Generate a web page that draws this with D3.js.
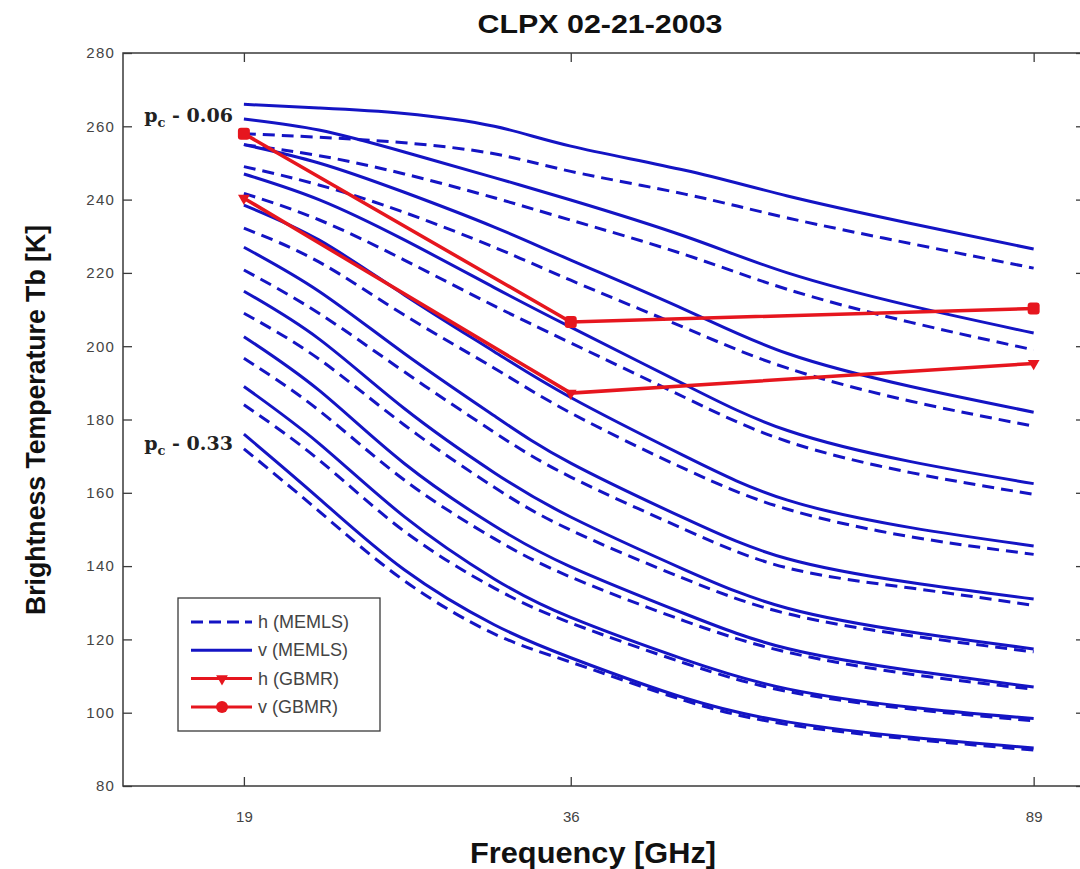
<!DOCTYPE html>
<html>
<head>
<meta charset="utf-8">
<script src="https://cdn.jsdelivr.net/npm/d3@7"></script>
<style>
  html, body { margin: 0; padding: 0; background: #ffffff; }
  svg { display: block; }
</style>
</head>
<body>
<svg id="chart" width="1080" height="869"></svg>
<script>
// Frequencies (GHz) at which the MEMLS curves are sampled
const frequencies = [19, 22, 26, 31, 36, 45, 55, 70, 89];

// Correlation length labels for the first and last MEMLS runs
const pcLabels = ["0.06", "0.33"];

// MEMLS vertical polarisation, one row per correlation length (K)
const vMEMLS = [
  [266.0, 265.0, 263.5, 260.0, 254.6, 248.0, 241.0, 233.5, 226.5],
  [262.0, 259.0, 253.0, 246.0, 239.9, 230.0, 220.0, 211.0, 203.6],
  [255.0, 250.0, 242.0, 232.5, 223.5, 210.0, 198.0, 189.0, 182.0],
  [247.0, 240.0, 229.0, 216.0, 205.2, 189.5, 177.0, 168.5, 162.5],
  [238.5, 229.0, 214.0, 198.5, 186.0, 170.0, 158.0, 150.5, 145.5],
  [227.0, 215.0, 198.0, 181.0, 168.1, 153.0, 142.0, 135.5, 131.0],
  [215.0, 202.0, 183.0, 165.5, 153.4, 139.0, 128.5, 122.0, 117.4],
  [202.6, 188.0, 168.0, 151.0, 139.8, 127.0, 117.5, 111.5, 107.0],
  [189.0, 173.5, 153.5, 136.5, 126.0, 114.5, 106.5, 101.5, 98.4],
  [176.0, 158.5, 139.0, 124.0, 115.0, 104.0, 97.5, 93.3, 90.4]
];

// MEMLS horizontal polarisation (K)
const hMEMLS = [
  [258.0, 257.0, 255.5, 252.5, 247.7, 241.5, 235.0, 228.0, 221.3],
  [255.0, 252.0, 247.0, 240.5, 234.4, 225.0, 215.5, 206.5, 199.0],
  [249.0, 244.0, 236.5, 227.0, 218.0, 205.0, 194.0, 185.0, 178.2],
  [241.7, 234.5, 223.5, 211.0, 200.9, 186.0, 174.0, 165.5, 159.6],
  [232.2, 223.0, 208.5, 194.0, 181.8, 166.5, 155.5, 148.0, 143.2],
  [220.8, 209.0, 193.0, 176.5, 164.3, 150.0, 139.5, 134.0, 129.3],
  [209.0, 196.5, 178.5, 161.5, 149.8, 136.5, 127.0, 121.0, 116.6],
  [196.7, 182.5, 163.5, 147.5, 137.0, 125.0, 116.5, 110.5, 106.4],
  [184.0, 169.0, 149.5, 134.0, 124.5, 113.5, 105.8, 101.0, 97.8],
  [172.0, 155.0, 136.0, 121.5, 113.8, 103.3, 96.8, 92.8, 89.8]
];

// GBMR observations
const gbmrFreq = [19, 36, 89];
const gbmrV = [258.0, 206.6, 210.3];
const gbmrH = [240.4, 187.2, 195.3];

// Axis ticks and limits
const xTicks = [19, 36, 89];
const xLimits = [15, 98.4];
const yTicks = [80, 100, 120, 140, 160, 180, 200, 220, 240, 260, 280];
const yLimits = [80, 280];

const legendItems = ["h (MEMLS)", "v (MEMLS)", "h (GBMR)", "v (GBMR)"];

(function draw() {
  const BLUE = "#1414c4";
  const RED = "#e6161e";
  const AXIS = "#3a3a3a";

  const svg = d3.select("#chart");
  const m = { left: 123, right: 1085, top: 53, bottom: 786 };

  const x = d3.scaleLog().domain(xLimits).range([m.left, m.right]);
  const y = d3.scaleLinear().domain(yLimits).range([m.bottom, m.top]);

  // Plot frame
  svg.append("rect")
    .attr("x", m.left).attr("y", m.top)
    .attr("width", m.right - m.left).attr("height", m.bottom - m.top)
    .attr("fill", "none").attr("stroke", AXIS).attr("stroke-width", 1.5);

  // Axes with inward ticks
  const gx = svg.append("g").attr("transform", `translate(0,${m.bottom})`)
    .call(d3.axisBottom(x).tickValues(xTicks).tickFormat(d3.format("d")).tickSize(-9).tickPadding(25));
  const gxTop = svg.append("g").attr("transform", `translate(0,${m.top})`)
    .call(d3.axisTop(x).tickValues(xTicks).tickFormat("").tickSize(-9));
  const gy = svg.append("g").attr("transform", `translate(${m.left},0)`)
    .call(d3.axisLeft(y).tickValues(yTicks).tickSize(-9).tickPadding(8));
  const gyRight = svg.append("g").attr("transform", `translate(${m.right},0)`)
    .call(d3.axisRight(y).tickValues(yTicks).tickFormat("").tickSize(-9));

  [gx, gxTop, gy, gyRight].forEach(g => {
    g.select(".domain").remove();
    g.selectAll(".tick line").attr("stroke", AXIS).attr("stroke-width", 1.3);
  });
  gx.selectAll(".tick text")
    .attr("font-family", "'Liberation Sans', Arial, sans-serif")
    .attr("font-size", 15).attr("fill", "#444");
  gy.selectAll(".tick text")
    .attr("font-family", "'Liberation Sans', Arial, sans-serif")
    .attr("font-size", 15).attr("letter-spacing", "1.2px").attr("fill", "#444");

  // MEMLS curves
  const line = d3.line()
    .x((d, i) => x(frequencies[i]))
    .y(d => y(d))
    .curve(d3.curveNatural);

  svg.append("g").selectAll("path.v").data(vMEMLS).join("path")
    .attr("class", "v")
    .attr("d", line)
    .attr("fill", "none").attr("stroke", BLUE).attr("stroke-width", 3);

  svg.append("g").selectAll("path.h").data(hMEMLS).join("path")
    .attr("class", "h")
    .attr("d", line)
    .attr("fill", "none").attr("stroke", BLUE).attr("stroke-width", 3)
    .attr("stroke-dasharray", "12,7");

  // GBMR observations
  const gLine = d3.line()
    .x((d, i) => x(gbmrFreq[i]))
    .y(d => y(d));

  const gb = svg.append("g");
  gb.append("path").attr("d", gLine(gbmrV))
    .attr("fill", "none").attr("stroke", RED).attr("stroke-width", 3.5);
  gb.append("path").attr("d", gLine(gbmrH))
    .attr("fill", "none").attr("stroke", RED).attr("stroke-width", 3.5);
  gb.selectAll("rect.vm").data(gbmrV).join("rect")
    .attr("class", "vm")
    .attr("x", (d, i) => x(gbmrFreq[i]) - 6).attr("y", d => y(d) - 6)
    .attr("width", 12).attr("height", 12).attr("rx", 3)
    .attr("fill", RED);
  const tri = d3.symbol().type(d3.symbolTriangle).size(60);
  gb.selectAll("path.hm").data(gbmrH).join("path")
    .attr("class", "hm")
    .attr("d", tri)
    .attr("transform", (d, i) => `translate(${x(gbmrFreq[i])},${y(d)}) rotate(180)`)
    .attr("fill", RED);

  // Correlation length annotations
  const pcText = [
    { label: pcLabels[0], v: vMEMLS[0][0], dy: 18 },
    { label: pcLabels[1], v: vMEMLS[vMEMLS.length - 1][0], dy: 16 }
  ];
  pcText.forEach(p => {
    const t = svg.append("text")
      .attr("x", x(frequencies[0]) - 11).attr("y", y(p.v) + p.dy)
      .attr("text-anchor", "end")
      .attr("font-family", "'DejaVu Serif', serif").attr("font-weight", "bold")
      .attr("font-size", 19).attr("fill", "#222");
    t.append("tspan").text("p");
    t.append("tspan").attr("font-size", 13).attr("dy", 5).text("c");
    t.append("tspan").attr("dy", -5).text(" - " + p.label);
  });

  // Legend
  const lg = svg.append("g").attr("transform", "translate(178,598)");
  lg.append("rect").attr("width", 202).attr("height", 133)
    .attr("fill", "#fff").attr("stroke", AXIS).attr("stroke-width", 1.3);
  legendItems.forEach((name, i) => {
    const yy = 24 + i * 28.3;
    const isBlue = i < 2;
    lg.append("line").attr("x1", 13).attr("x2", 74).attr("y1", yy).attr("y2", yy)
      .attr("stroke", isBlue ? BLUE : RED).attr("stroke-width", 3)
      .attr("stroke-dasharray", i === 0 ? "12,6" : null);
    if (i === 2) {
      lg.append("path").attr("d", tri).attr("transform", `translate(44,${yy}) rotate(180)`).attr("fill", RED);
    }
    if (i === 3) {
      lg.append("circle").attr("cx", 44).attr("cy", yy).attr("r", 6).attr("fill", RED);
    }
    lg.append("text").attr("x", 80).attr("y", yy + 6).text(name)
      .attr("font-family", "'Liberation Sans', Arial, sans-serif")
      .attr("font-size", 18).attr("fill", "#444");
  });

  // Titles
  svg.append("text").attr("x", 600).attr("y", 33).attr("text-anchor", "middle")
    .attr("font-family", "'Liberation Sans', Arial, sans-serif").attr("font-weight", "bold")
    .attr("font-size", 25).attr("textLength", 245).attr("lengthAdjust", "spacingAndGlyphs")
    .attr("fill", "#111")
    .text("CLPX 02-21-2003");

  svg.append("text").attr("x", 593).attr("y", 863).attr("text-anchor", "middle")
    .attr("font-family", "'Liberation Sans', Arial, sans-serif").attr("font-weight", "bold")
    .attr("font-size", 30).attr("textLength", 246).attr("lengthAdjust", "spacingAndGlyphs")
    .attr("fill", "#111")
    .text("Frequency [GHz]");

  svg.append("text").attr("transform", "translate(45,420) rotate(-90)").attr("text-anchor", "middle")
    .attr("font-family", "'Liberation Sans', Arial, sans-serif").attr("font-weight", "bold")
    .attr("font-size", 28).attr("textLength", 390).attr("lengthAdjust", "spacingAndGlyphs")
    .attr("fill", "#111")
    .text("Brightness Temperature Tb [K]");
})();
</script>
</body>
</html>
